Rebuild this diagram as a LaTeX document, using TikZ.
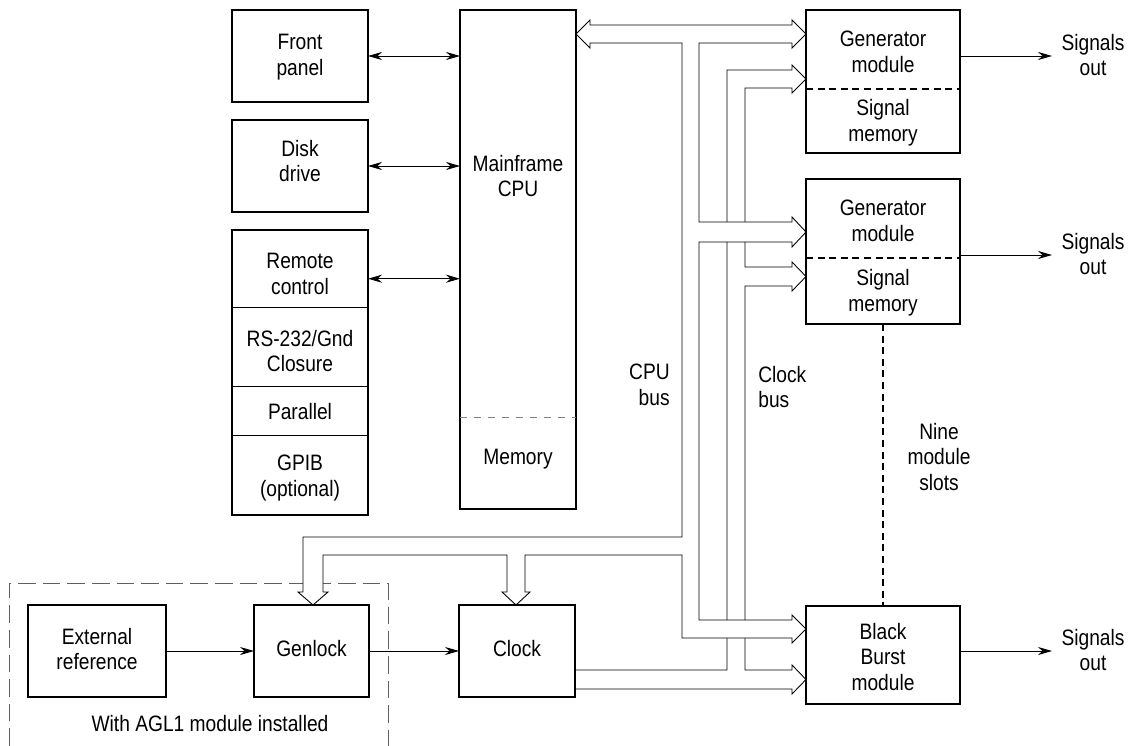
\documentclass[tikz,border=0pt]{standalone}
\usepackage{fontspec}
\setmainfont{Liberation Sans}[FakeStretch=0.86]
\usepackage{tikz}
\usetikzlibrary{arrows.meta,positioning}
\definecolor{frameGray}{RGB}{95,95,95}

\begin{document}
\begin{tikzpicture}[x=0.02cm,y=-0.02cm,
    every node/.append style={font=\fontsize{12.7}{14.6}\selectfont},
    blockbox/.style={draw,line width=0.9pt,inner sep=0pt,outer sep=0pt,align=center},
    label/.style={align=center,inner sep=0pt},
    sig/.style={line width=0.55pt,-{Stealth[length=8pt,width=4.6pt]}},
    sigboth/.style={line width=0.55pt,{Stealth[length=8pt,width=4.6pt]}-{Stealth[length=8pt,width=4.6pt]}},
    busline/.style={line width=0.5pt,line join=miter},
    slotline/.style={line width=1.1pt,dash pattern=on 4pt off 2.6pt},
    memline/.style={line width=0.4pt,gray,dash pattern=on 4pt off 4pt},
    aglline/.style={line width=0.55pt,frameGray,dash pattern=on 10pt off 4pt}]
  \useasboundingbox (0,0) rectangle (1131,746);

  % left column: front panel, disk, interfaces
  \node[blockbox,minimum width=2.72cm,minimum height=1.84cm] (fp) at (300,56) {};
  \node[label] (fplbl) at (300,57) {Front\\panel};
  \node[blockbox,minimum width=2.72cm,minimum height=1.84cm] (dd) at (300,166) {};
  \node[label] (ddlbl) at (300,161) {Disk\\drive};
  \node[blockbox,minimum width=2.72cm,minimum height=5.7cm] (iface) at (300,372.7) {};
  \node[label] (rc) at (300,274) {Remote\\control};
  \node[label] (rs) at (300,351) {RS-232/Gnd\\Closure};
  \node[label] (par) at (300,412) {Parallel};
  \node[label] (gpib) at (300,478) {GPIB\\(optional)};
  \draw[line width=0.5pt] (232,307) -- (368,307);
  \draw[line width=0.5pt] (232,386.7) -- (368,386.7);
  \draw[line width=0.5pt] (232,435) -- (368,435);

  % mainframe CPU
  \node[blockbox,minimum width=2.32cm,minimum height=9.98cm] (cpu) at (518,259.7) {};
  \node[label] (cpulbl) at (518,176) {Mainframe\\CPU};
  \node[label] (mem) at (518,459) {Memory};
  \draw[memline] (460,417.7) -- (576,417.7);

  \draw[sigboth] (fp.east) -- (fp.east -| cpu.west);
  \draw[sigboth] (dd.east) -- (dd.east -| cpu.west);
  \draw[sigboth] (368,278.7) -- (460,278.7);

  % generator modules and black burst
  \node[blockbox,minimum width=3.08cm,minimum height=2.86cm] (gen1) at (883,81.5) {};
  \node[label] (gen1a) at (883,52) {Generator\\module};
  \node[label] (gen1b) at (883,123) {Signal\\memory};
  \draw[slotline] (806,89) -- (960,89);
  \node[blockbox,minimum width=3.08cm,minimum height=2.9cm] (gen2) at (883,251.5) {};
  \node[label] (gen2a) at (883,221) {Generator\\module};
  \node[label] (gen2b) at (883,293) {Signal\\memory};
  \draw[slotline] (806,258) -- (960,258);
  \node[blockbox,minimum width=3.08cm,minimum height=1.96cm] (bb) at (883,655) {};
  \node[label] (bblbl) at (883,657) {Black\\Burst\\module};
  \draw[slotline] (gen2.south) -- (bb.north);
  \node[label] (nine) at (939,457) {Nine\\module\\slots};

  \node[label] (out1) at (1093,55) {Signals\\out};
  \node[label] (out2) at (1093,254) {Signals\\out};
  \node[label] (out3) at (1093,650) {Signals\\out};
  \draw[sig] (960,56) -- (1052,56);
  \draw[sig] (960,255) -- (1052,255);
  \draw[sig] (960,651) -- (1052,651);

  % bottom row
  \node[blockbox,minimum width=2.76cm,minimum height=1.84cm] (ext) at (97,651) {};
  \node[label] (extlbl) at (97,649) {External\\reference};
  \node[blockbox,minimum width=2.3cm,minimum height=1.84cm] (genl) at (311.5,651) {};
  \node[label] (genllbl) at (311.5,649) {Genlock};
  \node[blockbox,minimum width=2.32cm,minimum height=1.84cm] (clk) at (517,651) {};
  \node[label] (clklbl) at (517,649) {Clock};
  \draw[sig] (ext.east) -- (genl.west);
  \draw[sig] (genl.east) -- (clk.west);
  \draw[aglline] (9,746) -- (9,583) -- (388,583) -- (388,746);
  \node[label] (agl) at (210,724) {With AGL1 module installed};

  % clock bus
  \draw[busline] (575,670) -- (727,670) -- (727,70) -- (792,70) -- (792,65) -- (806,79)
    -- (792,93) -- (792,88) -- (745,88) -- (745,267) -- (792,267) -- (792,262)
    -- (806,276.5) -- (792,291) -- (792,286) -- (745,286) -- (745,670) -- (792,670)
    -- (792,665) -- (806,679.5) -- (792,694) -- (792,689) -- (575,689);
  \node[label,anchor=west,align=left] (clkbus) at (758,387) {Clock\\bus};

  % CPU bus
  \draw[busline,fill=white] (576,34) -- (590,20) -- (590,25) -- (792,25) -- (792,20)
    -- (806,34) -- (792,48) -- (792,43) -- (699,43) -- (699,222) -- (792,222)
    -- (792,217) -- (806,232) -- (792,247) -- (792,242) -- (699,242) -- (699,620)
    -- (792,620) -- (792,615) -- (806,629) -- (792,643) -- (792,638) -- (682,638)
    -- (682,555) -- (525,555) -- (525,592) -- (530,592) -- (516,605) -- (502,592)
    -- (507,592) -- (507,555) -- (323,555) -- (323,592) -- (328,592) -- (313,605)
    -- (298,592) -- (303,592) -- (303,537) -- (682,537) -- (682,43) -- (590,43)
    -- (590,48) -- cycle;
  \node[label,anchor=east,align=right] (cpubus) at (670,385) {CPU\\bus};
\end{tikzpicture}
\end{document}
